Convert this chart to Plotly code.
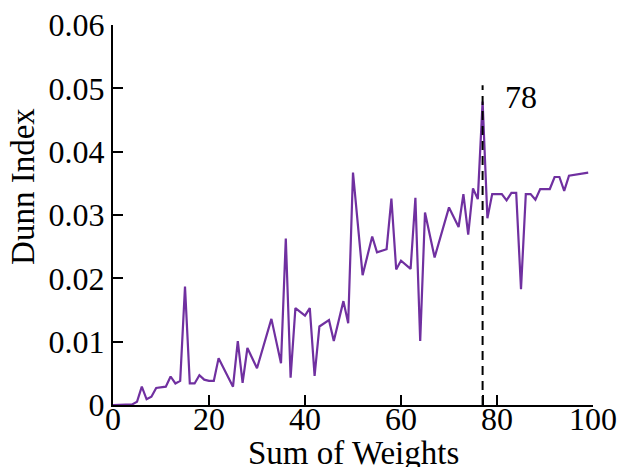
import plotly.graph_objects as go

# Data
weights = [0, 1, 2, 3, 4, 5, 6, 7, 8, 9, 10, 11, 12, 13, 14, 15, 16, 17, 18, 19, 20, 21, 22,
           25, 26, 27, 28, 30, 33, 35, 36, 37, 38, 40, 41, 42, 43, 45, 46, 48, 49, 50,
           52, 54, 55, 57, 58, 59, 60, 62, 63, 64, 65, 67, 70, 72, 73, 74, 75, 76, 77,
           78, 79, 81, 82, 83, 84, 85, 86, 87, 88, 89, 91, 92, 93, 94, 95, 99]
dunn = [0, 0, 0, 0, 0.0001, 0.0005, 0.0029, 0.0009, 0.0013, 0.0027, 0.0028, 0.0029, 0.0045,
        0.0034, 0.0038, 0.0187, 0.0034, 0.0034, 0.0047, 0.0040, 0.0038, 0.0038, 0.0074,
        0.0029, 0.0101, 0.0035, 0.0090, 0.0058, 0.0136, 0.0066, 0.0263, 0.0043, 0.0153,
        0.0141, 0.0153, 0.0046, 0.0124, 0.0134, 0.0101, 0.0164, 0.0129, 0.0367,
        0.0205, 0.0266, 0.0241, 0.0246, 0.0326, 0.0214, 0.0228, 0.0215, 0.0327, 0.0101,
        0.0304, 0.0233, 0.0312, 0.0281, 0.0333, 0.0269, 0.0342, 0.0325, 0.0479,
        0.0295, 0.0333, 0.0333, 0.0323, 0.0335, 0.0335, 0.0183, 0.0333, 0.0333, 0.0324,
        0.0341, 0.0341, 0.0360, 0.0360, 0.0338, 0.0362, 0.0367]

peak_x = 77
peak_top = 0.0505
peak_label = "78"
label_pos = (85.1, 0.0487)

x_ticks = [0, 20, 40, 60, 77, 80, 100]
x_tick_text = ["0", "20", "40", "60", "", "80", "100"]
y_ticks = [0, 0.01, 0.02, 0.03, 0.04, 0.05, 0.06]
y_tick_text = ["0", "0.01", "0.02", "0.03", "0.04", "0.05", "0.06"]

FONT = "Times New Roman, Liberation Serif, DejaVu Serif, serif"
FS = 32

fig = go.Figure()
fig.add_trace(go.Scatter(x=weights, y=dunn, mode="lines",
                         line=dict(color="#7030A0", width=2.2), showlegend=False))
fig.add_trace(go.Scatter(x=[peak_x, peak_x], y=[0, peak_top], mode="lines",
                         line=dict(color="black", width=2, dash="9px,6px"), showlegend=False))

fig.add_annotation(x=label_pos[0], y=label_pos[1], xref="x", yref="y", text=peak_label,
                   showarrow=False, font=dict(family=FONT, size=FS, color="black"))
fig.add_annotation(x=0.5, y=-0.127, xref="paper", yref="paper", text="Sum of Weights",
                   showarrow=False, yanchor="middle", xanchor="center",
                   font=dict(family=FONT, size=33, color="black"))
fig.add_annotation(x=-0.1875, y=0.574, xref="paper", yref="paper", text="Dunn Index",
                   showarrow=False, textangle=-90, xanchor="center", yanchor="middle",
                   font=dict(family=FONT, size=33, color="black"))

fig.update_layout(
    width=633, height=467,
    margin=dict(l=113, r=40, t=25, b=62),
    paper_bgcolor="white", plot_bgcolor="white",
    font=dict(family=FONT, size=FS, color="black"),
    xaxis=dict(range=[0, 100], tickvals=x_ticks, ticktext=x_tick_text,
               ticks="inside", ticklen=10, tickwidth=2, tickcolor="black",
               showline=True, linecolor="black", linewidth=2,
               showgrid=False, zeroline=False, automargin=False,
               ticklabelstandoff=-15, ticklabeloverflow="allow",
               tickfont=dict(family=FONT, size=FS, color="black")),
    yaxis=dict(range=[0, 0.06], tickvals=y_ticks, ticktext=y_tick_text,
               ticks="inside", ticklen=10, tickwidth=2, tickcolor="black",
               showline=True, linecolor="black", linewidth=2,
               showgrid=False, zeroline=False, automargin=False,
               ticklabeloverflow="allow",
               tickfont=dict(family=FONT, size=FS, color="black")),
)

fig.write_html("out.html", config={"displayModeBar": False},
               post_script="document.body.style.margin='0';document.body.style.overflow='hidden';")
